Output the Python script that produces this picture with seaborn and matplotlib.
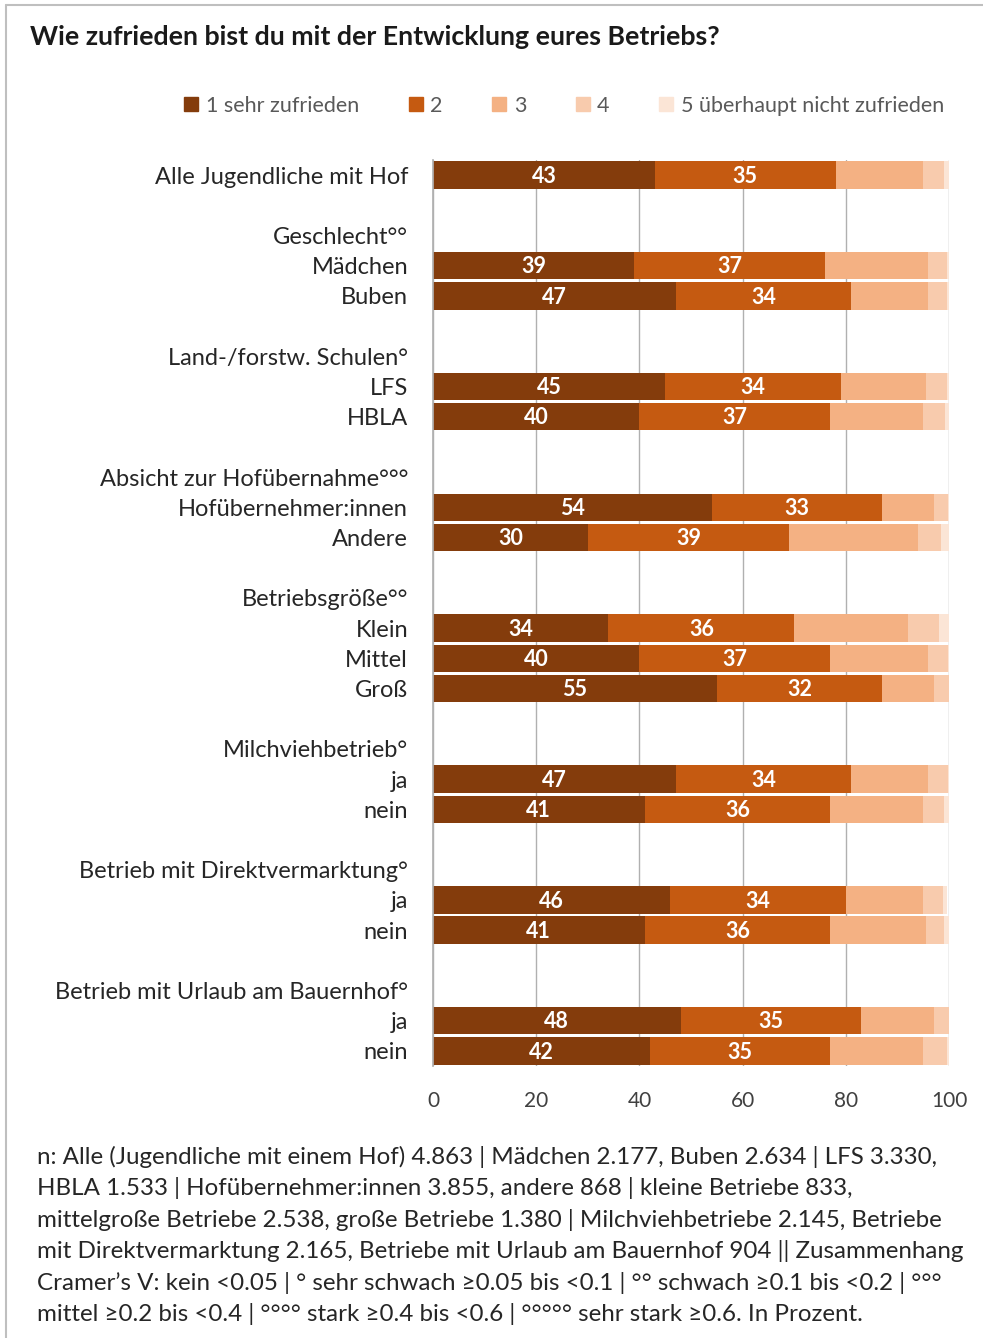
import numpy as np
import pandas as pd
import matplotlib
matplotlib.use("Agg")
import matplotlib.pyplot as plt
import seaborn as sns
from matplotlib.patches import Patch
from matplotlib.lines import Line2D

title = "Wie zufrieden bist du mit der Entwicklung eures Betriebs?"
answers = ["1 sehr zufrieden", "2", "3", "4", "5 überhaupt nicht zufrieden"]
colors = ["#843C0C", "#C55A11", "#F4B183", "#F8CBAD", "#FBE5D6"]

# group header -> sub categories (empty header = no header row)
groups = ["", "Geschlecht°°", "Land-/forstw. Schulen°", "Absicht zur Hofübernahme°°°",
          "Betriebsgröße°°", "Milchviehbetrieb°", "Betrieb mit Direktvermarktung°",
          "Betrieb mit Urlaub am Bauernhof°"]
subgroups = [["Alle Jugendliche mit Hof"], ["Mädchen", "Buben"], ["LFS", "HBLA"],
             ["Hofübernehmer:innen", "Andere"], ["Klein", "Mittel", "Groß"],
             ["ja", "nein"], ["ja", "nein"], ["ja", "nein"]]

# percentages per answer, one entry per bar (same order as subgroups flattened)
v1 = [43, 39, 47, 45, 40, 54, 30, 34, 40, 55, 47, 41, 46, 41, 48, 42]
v2 = [35, 37, 34, 34, 37, 33, 39, 36, 37, 32, 34, 36, 34, 36, 35, 35]
v3 = [17, 20, 15, 16.5, 18, 10, 25, 22, 19, 10, 15, 18, 15, 18.5, 14, 18]
v4 = [4, 3.5, 3.5, 4, 4.3, 2.8, 4.5, 6, 3.7, 3, 3.7, 4, 3.8, 3.5, 3, 4.5]
v5 = [1, 0.5, 0.5, 0.5, 0.7, 0.2, 1.5, 2, 0.3, 0, 0.3, 1, 0.7, 1, 0, 0.5]

footnote = [
    "n: Alle (Jugendliche mit einem Hof) 4.863 | Mädchen 2.177, Buben 2.634 | LFS 3.330,",
    "HBLA 1.533 | Hofübernehmer:innen 3.855, andere 868 | kleine Betriebe 833,",
    "mittelgroße Betriebe 2.538, große Betriebe 1.380 | Milchviehbetriebe 2.145, Betriebe",
    "mit Direktvermarktung 2.165, Betriebe mit Urlaub am Bauernhof 904 || Zusammenhang",
    "Cramer’s V: kein <0.05 | ° sehr schwach ≥0.05 bis <0.1 | °° schwach ≥0.1 bis <0.2 | °°°",
    "mittel ≥0.2 bis <0.4 | °°°° stark ≥0.4 bis <0.6 | °°°°° sehr stark ≥0.6. In Prozent.",
]

# build row order: bars, header rows and blank spacer rows
order, shown, bar_keys = [], [], []
for gi, (g, subs) in enumerate(zip(groups, subgroups)):
    if gi > 0:
        order.append(f"blank{gi}")
        shown.append("")
        order.append(f"head{gi}")
        shown.append(g)
    for s in subs:
        key = f"{gi}|{s}"
        order.append(key)
        shown.append(s)
        bar_keys.append(key)

vals = np.array([v1, v2, v3, v4, v5]).T
cum = np.cumsum(vals, axis=1)
df = pd.DataFrame({"key": bar_keys})
for k in range(5):
    df[f"c{k}"] = cum[:, k]

sns.set_theme(style="white")
plt.rcParams["font.family"] = ["Lato", "DejaVu Sans"]

fig = plt.figure(figsize=(9.83, 13.38), dpi=100)
ax = fig.add_axes([0.4405, 0.2033, 0.525, 0.6771])

for k in reversed(range(5)):
    sns.barplot(data=df, x=f"c{k}", y="key", order=order, orient="h",
                color=colors[k], saturation=1, width=0.91, linewidth=0,
                errorbar=None, ax=ax)

# value labels for the first two answers
ypos = {k: i for i, k in enumerate(order)}
for i, key in enumerate(bar_keys):
    for k in range(2):
        start = cum[i, k] - vals[i, k]
        ax.text(start + vals[i, k] / 2, ypos[key] + 0.04, f"{vals[i, k]:.0f}",
                ha="center", va="center", color="white", fontsize=15.5,
                fontweight="bold")

ax.set_xlim(0, 100)
ax.set_xticks(range(0, 101, 20))
ax.set_yticks(range(len(order)))
ax.set_yticklabels(shown)
ax.set_xlabel("")
ax.set_ylabel("")
ax.set_axisbelow(True)
ax.xaxis.grid(True, color="#B0B0B0", lw=1)
for s in ["top", "right", "bottom"]:
    ax.spines[s].set_visible(False)
ax.spines["left"].set_color("#B0B0B0")
ax.tick_params(axis="y", length=0, pad=18, labelsize=17, labelcolor="#262626")
ax.tick_params(axis="x", length=0, pad=18, labelsize=15, labelcolor="#404040")

handles = [Patch(color=c, label=a) for c, a in zip(colors, answers)]
fig.legend(handles=handles, loc="center", bbox_to_anchor=(0.574, 0.921), ncol=5,
           frameon=False, fontsize=15.5, handlelength=0.65, handleheight=0.65,
           handletextpad=0.35, columnspacing=2.3, labelcolor="#595959")

fig.text(0.031, 1 - 37 / 1338, title, fontsize=19.3, fontweight="bold",
         va="center", color="#1a1a1a")

for i, line in enumerate(footnote):
    y = 1157 + i * 31.4
    fig.text(0.0376, 1 - y / 1338, line, va="center", fontsize=17.4, color="#262626")

# thin frame like the screenshot border
fig.add_artist(Line2D([0.006, 0.006], [0, 0.996], transform=fig.transFigure,
                      color="#BFBFBF", lw=1.5))
fig.add_artist(Line2D([0.006, 1], [0.996, 0.996], transform=fig.transFigure,
                      color="#BFBFBF", lw=1.5))

fig.savefig("out.png", dpi=100)
